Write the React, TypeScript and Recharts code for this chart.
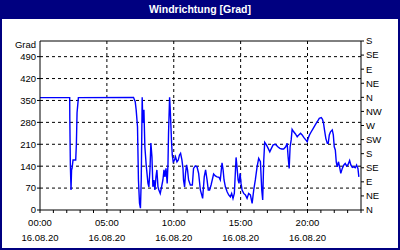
import React from 'react';
import { LineChart, Line, XAxis, YAxis, CartesianGrid, ReferenceLine } from 'recharts';

const hours = [
  0, 2.22, 2.23, 2.27, 2.32, 2.36, 2.40, 2.47, 2.67, 2.72,
  2.77, 2.87, 6.99, 7.12, 7.19, 7.29, 7.36, 7.44, 7.51, 7.57,
  7.64, 7.69, 7.77, 7.84, 7.94, 8.07, 8.14, 8.22, 8.29, 8.37,
  8.44, 8.52, 8.59, 8.67, 8.74, 8.82, 8.89, 8.99, 9.09, 9.19,
  9.27, 9.34, 9.42, 9.51, 9.57, 9.61, 9.69, 9.74, 9.84, 9.89,
  9.96, 10.06, 10.13, 10.24, 10.34, 10.43, 10.51, 10.61, 10.69, 10.73,
  10.81, 10.88, 10.96, 11.03, 11.11, 11.24, 11.39, 11.48, 11.61, 11.74,
  11.86, 11.99, 12.16, 12.28, 12.38, 12.49, 12.58, 12.68, 12.79, 12.88,
  12.98, 13.11, 13.24, 13.39, 13.48, 13.61, 13.69, 13.76, 13.86, 13.99,
  14.11, 14.23, 14.33, 14.43, 14.53, 14.66, 14.73, 14.81, 14.88, 14.96,
  15.03, 15.11, 15.23, 15.36, 15.48, 15.60, 15.73, 15.86, 15.98, 16.10,
  16.23, 16.35, 16.48, 16.58, 16.65, 16.73, 16.80, 16.93, 17.06, 17.18,
  17.30, 17.43, 17.60, 17.78, 17.93, 18.07, 18.22, 18.37, 18.48, 18.55,
  18.63, 18.70, 18.78, 18.85, 18.97, 19.10, 19.23, 19.35, 19.48, 19.60,
  19.72, 19.87, 19.98, 20.05, 20.15, 20.28, 20.43, 20.58, 20.73, 20.88,
  21.03, 21.12, 21.20, 21.27, 21.37, 21.48, 21.55, 21.63, 21.72, 21.85,
  21.93, 22.00, 22.08, 22.15, 22.22, 22.32, 22.42, 22.49, 22.60, 22.72,
  22.82, 22.92, 23.02, 23.15, 23.24, 23.35, 23.47, 23.57, 23.67, 23.77,
  23.84,
];

const degrees = [
  359, 359, 290, 144, 64, 128, 134, 160, 160, 211,
  311, 359, 360, 346, 320, 266, 96, 22, 6, 96,
  360, 278, 320, 202, 144, 86, 74, 128, 214, 170,
  74, 96, 64, 106, 128, 74, 64, 53, 74, 96,
  128, 106, 133, 85, 149, 245, 360, 320, 213, 176,
  154, 160, 170, 154, 160, 176, 181, 160, 133, 96,
  74, 117, 144, 128, 96, 80, 80, 133, 141, 138,
  117, 64, 37, 106, 128, 96, 64, 64, 80, 96,
  115, 109, 106, 104, 96, 151, 128, 96, 74, 58,
  48, 42, 53, 37, 53, 168, 138, 96, 85, 117,
  85, 64, 53, 48, 37, 53, 48, 21, 64, 96,
  138, 165, 154, 64, 32, 160, 216, 208, 197, 186,
  197, 208, 210, 202, 197, 195, 195, 202, 213, 170,
  133, 202, 224, 258, 250, 243, 234, 240, 245, 240,
  232, 224, 218, 229, 240, 250, 261, 272, 282, 293,
  295, 290, 277, 256, 229, 213, 213, 240, 250, 256,
  240, 202, 192, 154, 138, 154, 133, 117, 133, 144,
  149, 141, 144, 158, 144, 136, 138, 135, 144, 133,
  106,
];

const hourTicks = [0, 1, 2, 3, 4, 5, 6, 7, 8, 9, 10, 11, 12, 13, 14, 15, 16, 17, 18, 19, 20, 21, 22, 23, 24];
const labelHours = [0, 5, 10, 15, 20];
const timeLabels = ['00:00', '05:00', '10:00', '15:00', '20:00'];
const dateLabel = '16.08.20';
const gradTicks = [0, 70, 140, 210, 280, 350, 420, 490];
const compassTicks = [0, 45, 90, 135, 180, 225, 270, 315, 360, 405, 450, 495, 540];
const compassLabels = ['N', 'NE', 'E', 'SE', 'S', 'SW', 'W', 'NW', 'N', 'NE', 'E', 'SE', 'S'];
const title = 'Windrichtung [Grad]';
const unitLabel = 'Grad';

const data = hours.map((h, i) => ({ h, v: degrees[i] }));

const FONT = '"Liberation Sans", Arial, sans-serif';
const NAVY = '#000080';

const XTick = (props: any) => {
  const { x, y, payload } = props;
  const idx = labelHours.indexOf(payload.value);
  if (idx < 0) return <g />;
  return (
    <g>
      <text x={x} y={y} dy={11} textAnchor="middle" fontSize={9.5} fontFamily={FONT} fill="#000">
        {timeLabels[idx]}
      </text>
      <text x={x} y={y} dy={25.5} textAnchor="middle" fontSize={9.5} fontFamily={FONT} fill="#000">
        {dateLabel}
      </text>
    </g>
  );
};

export default function App() {
  return (
    <div style={{ position: 'absolute', left: 0, top: 0, width: 400, height: 250, background: '#fff' }}>
      <div
        style={{
          position: 'absolute', left: 0, top: 0, width: 400, height: 250,
          boxSizing: 'border-box', border: `2px solid ${NAVY}`,
        }}
      />
      <div
        style={{
          position: 'absolute', left: 0, top: 0, width: 400, height: 19, background: NAVY,
          color: '#fff', fontFamily: FONT, fontWeight: 'bold', fontSize: 10.5,
          lineHeight: '19px', textAlign: 'center',
        }}
      >
        {title}
      </div>
      <div
        style={{
          position: 'absolute', right: 364, top: 39, fontFamily: FONT, fontSize: 9.5,
          lineHeight: '12px', color: '#000', textAlign: 'right', whiteSpace: 'nowrap',
        }}
      >
        {unitLabel}
      </div>
      <div style={{ position: 'absolute', left: 0, top: 0 }}>
        <LineChart width={400} height={250} data={data} margin={{ top: 41, right: 0, bottom: 0, left: 0 }}>
          <CartesianGrid
            yAxisId="left"
            stroke="#000"
            strokeDasharray="3 3"
            horizontalValues={gradTicks.filter((t) => t > 0)}
            verticalValues={labelHours.filter((t) => t > 0)}
          />
          <XAxis
            dataKey="h"
            type="number"
            domain={[0, 24]}
            ticks={hourTicks}
            interval={0}
            height={40}
            tick={<XTick />}
            tickSize={3}
            tickMargin={2}
            axisLine={{ stroke: '#000' }}
            tickLine={{ stroke: '#000' }}
            allowDataOverflow
          />
          <YAxis
            yAxisId="left"
            orientation="left"
            type="number"
            domain={[0, 540]}
            ticks={gradTicks}
            interval={0}
            width={40}
            tickSize={3}
            tickMargin={1}
            axisLine={{ stroke: '#000' }}
            tickLine={{ stroke: '#000' }}
            tick={{ fontSize: 9.5, fontFamily: FONT, fill: '#000' }}
            allowDataOverflow
          />
          <YAxis
            yAxisId="right"
            orientation="right"
            type="number"
            domain={[0, 540]}
            ticks={compassTicks}
            interval={0}
            width={39}
            tickSize={3}
            tickMargin={2}
            axisLine={{ stroke: '#000' }}
            tickLine={{ stroke: '#000' }}
            tickFormatter={(v: number) => compassLabels[compassTicks.indexOf(v)]}
            tick={{ fontSize: 9.5, fontFamily: FONT, fill: '#000' }}
            allowDataOverflow
          />
          <ReferenceLine yAxisId="left" y={540} stroke="#000" strokeWidth={1} />
          <Line
            yAxisId="left"
            type="linear"
            dataKey="v"
            stroke="#0000ff"
            strokeWidth={1.4}
            dot={false}
            isAnimationActive={false}
          />
        </LineChart>
      </div>
    </div>
  );
}
